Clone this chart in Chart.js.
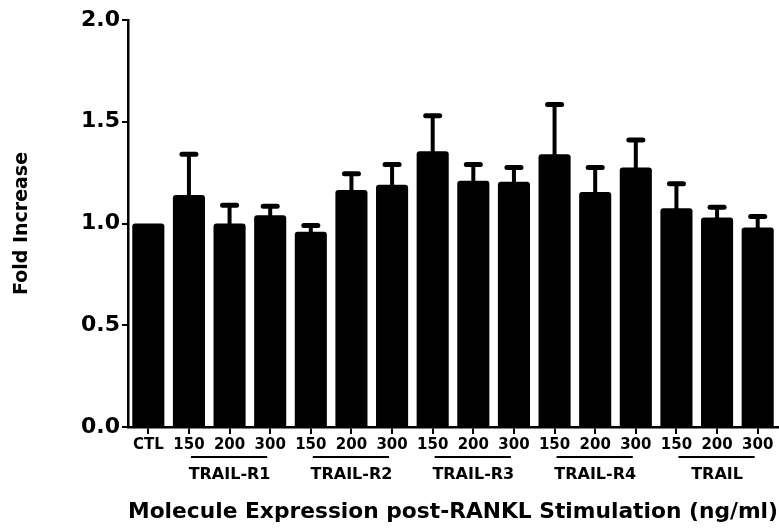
<!DOCTYPE html>
<html>
<head>
<meta charset="utf-8">
<script src="https://cdn.jsdelivr.net/npm/chart.js@4/dist/chart.umd.min.js"></script>
<style>
    body { margin:0; background:#fff; }
    #div_chart { width:779px; height:529px; }
</style>
</head>
<body>
<div id="div_chart"><canvas id="chart"></canvas></div>
<script>
// categories on the x axis
var etiquetas = ['CTL','150','200','300','150','200','300','150','200','300','150','200','300','150','200','300'];
// mean fold increase per bar
var medias = [1.00, 1.14, 1.00, 1.04, 0.96, 1.165, 1.19, 1.355, 1.21, 1.205, 1.34, 1.155, 1.275, 1.075, 1.03, 0.98];
// upper error (SEM) per bar
var errores = [0, 0.20, 0.09, 0.045, 0.03, 0.08, 0.10, 0.175, 0.08, 0.07, 0.245, 0.12, 0.135, 0.12, 0.05, 0.055];
// groups under the axis: name, first and last category index
var grupos = ['TRAIL-R1','TRAIL-R2','TRAIL-R3','TRAIL-R4','TRAIL'];
var grupoDesde = [1, 4, 7, 10, 13];
var grupoHasta = [3, 6, 9, 12, 15];
var yTicks = [0, 0.5, 1.0, 1.5, 2.0];

var fuente = 'DejaVu Sans';

var barrasError = {
    id: 'barrasError',
    afterDatasetsDraw: function(chart) {
        var ctx = chart.ctx;
        var meta = chart.getDatasetMeta(0);
        var y = chart.scales.y;
        ctx.save();
        ctx.strokeStyle = '#000';
        ctx.lineCap = 'round';
        meta.data.forEach(function(bar, i) {
            if (!errores[i]) return;
            var y0 = y.getPixelForValue(medias[i]);
            var y1 = y.getPixelForValue(medias[i] + errores[i]);
            ctx.lineWidth = 4;
            ctx.beginPath();
            ctx.moveTo(bar.x, y0);
            ctx.lineTo(bar.x, y1);
            ctx.stroke();
            ctx.lineWidth = 5;
            ctx.beginPath();
            ctx.moveTo(bar.x - 7, y1);
            ctx.lineTo(bar.x + 7, y1);
            ctx.stroke();
        });
        ctx.restore();
    }
};

var gruposEje = {
    id: 'gruposEje',
    afterDraw: function(chart) {
        var ctx = chart.ctx;
        var x = chart.scales.x;
        ctx.save();
        ctx.fillStyle = '#000';
        ctx.strokeStyle = '#000';
        ctx.lineWidth = 2;
        ctx.font = 'bold 16px "' + fuente + '"';
        ctx.textAlign = 'center';
        ctx.textBaseline = 'middle';
        grupos.forEach(function(nombre, g) {
            var x1 = x.getPixelForValue(grupoDesde[g]);
            var x2 = x.getPixelForValue(grupoHasta[g]);
            ctx.beginPath();
            ctx.moveTo(x1 + 2, x.top + 30);
            ctx.lineTo(x2 - 3, x.top + 30);
            ctx.stroke();
            ctx.fillText(nombre, (x1 + x2) / 2, x.top + 48);
        });
        ctx.restore();
    }
};

new Chart(document.getElementById('chart'), {
    type: 'bar',
    data: {
        labels: etiquetas,
        datasets: [{
            data: medias,
            backgroundColor: '#000',
            borderRadius: 3,
            borderSkipped: 'start',
            barPercentage: 0.79,
            categoryPercentage: 1.0
        }]
    },
    options: {
        responsive: true,
        maintainAspectRatio: false,
        animation: false,
        layout: { padding: { top: 20, right: 1, bottom: 0, left: 0 } },
        plugins: {
            legend: { display: false },
            tooltip: { enabled: false }
        },
        scales: {
            x: {
                grid: { offset: false, drawOnChartArea: false, drawTicks: true, tickLength: 7, color: '#000', lineWidth: 2 },
                border: { color: '#000', width: 2.5 },
                ticks: {
                    autoSkip: false, maxRotation: 0, padding: 2, color: '#000',
                    font: { family: fuente, weight: 'bold', size: 15 }
                },
                title: {
                    display: true,
                    text: 'Molecule Expression post-RANKL Stimulation (ng/ml)',
                    color: '#000',
                    font: { family: fuente, weight: 'bold', size: 22 },
                    padding: { top: 0, bottom: 4 }
                },
                afterFit: function(scale) { scale.height = 102; }
            },
            y: {
                min: 0, max: 2,
                afterBuildTicks: function(scale) {
                    scale.ticks = yTicks.map(function(v) { return { value: v }; });
                },
                grid: { drawOnChartArea: false, drawTicks: true, tickLength: 6, color: '#000', lineWidth: 2 },
                border: { color: '#000', width: 2.5 },
                ticks: {
                    padding: 2, color: '#000',
                    font: { family: fuente, weight: 'bold', size: 22 },
                    callback: function(v) { return Number(v).toFixed(1); }
                },
                title: {
                    display: true,
                    text: 'Fold Increase',
                    color: '#000',
                    font: { family: fuente, weight: 'bold', size: 19 },
                    padding: { top: 11, bottom: 0 }
                },
                afterFit: function(scale) { scale.width = 128; }
            }
        }
    },
    plugins: [barrasError, gruposEje]
});
</script>
</body>
</html>
